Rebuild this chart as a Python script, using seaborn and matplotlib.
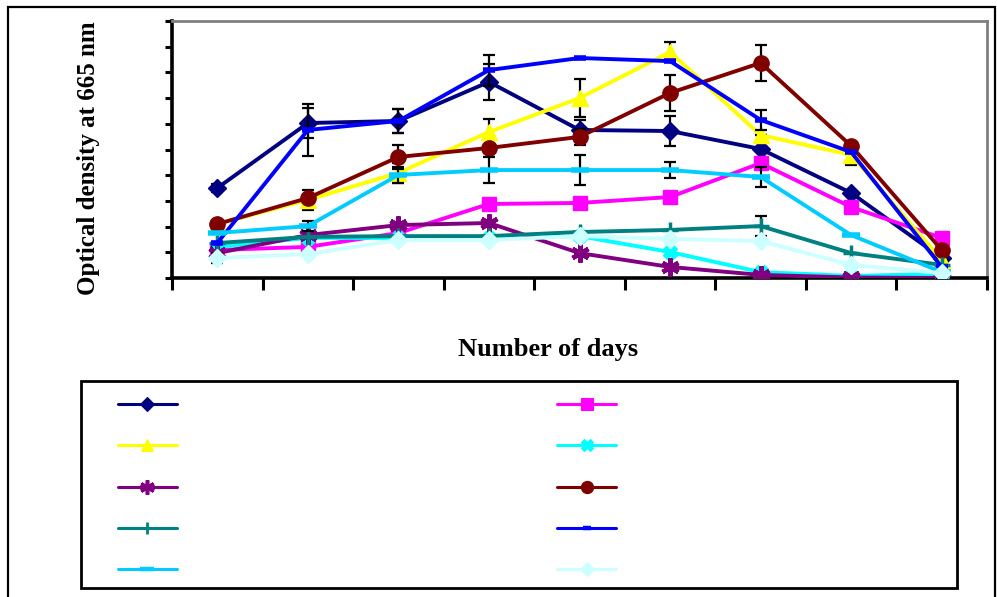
import numpy as np
import pandas as pd
import seaborn as sns
import matplotlib.pyplot as plt
from matplotlib.lines import Line2D
from matplotlib.patches import Rectangle

sns.set_theme(style='white')
plt.rcParams['font.family'] = ['Liberation Serif', 'DejaVu Serif']
plt.rcParams['text.color'] = 'black'
plt.rcParams['axes.labelcolor'] = 'black'

days = [1, 2, 3, 4, 5, 6, 7, 8, 9]
series = ['S1', 'S2', 'S3', 'S4', 'S5', 'S6', 'S7', 'S8', 'S9', 'S10']

# optical density readings per series
s1 = [0.350, 0.603, 0.611, 0.763, 0.576, 0.572, 0.502, 0.331, 0.078]
s2 = [0.109, 0.121, 0.175, 0.288, 0.292, 0.315, 0.447, 0.276, 0.156]
s3 = [0.210, 0.304, 0.409, 0.568, 0.700, 0.879, 0.556, 0.479, 0.070]
s4 = [0.121, 0.156, 0.156, 0.156, 0.163, 0.101, 0.023, 0.008, 0.016]
s5 = [0.097, 0.167, 0.206, 0.214, 0.097, 0.043, 0.012, 0.002, 0.000]
s6 = [0.210, 0.311, 0.471, 0.506, 0.549, 0.720, 0.837, 0.514, 0.109]
s7 = [0.136, 0.160, 0.163, 0.163, 0.179, 0.187, 0.202, 0.097, 0.051]
s8 = [0.136, 0.576, 0.611, 0.809, 0.856, 0.844, 0.615, 0.490, 0.043]
s9 = [0.175, 0.202, 0.401, 0.420, 0.420, 0.420, 0.393, 0.167, 0.023]
s10 = [0.078, 0.093, 0.148, 0.148, 0.163, 0.152, 0.144, 0.051, 0.019]

# standard errors
e1 = [0.016, 0.060, 0.045, 0.070, 0.040, 0.060, 0.000, 0.000, 0.000]
e2 = [0.000, 0.000, 0.000, 0.000, 0.000, 0.000, 0.000, 0.000, 0.000]
e3 = [0.000, 0.040, 0.040, 0.050, 0.075, 0.040, 0.000, 0.040, 0.000]
e4 = [0.000, 0.000, 0.000, 0.000, 0.000, 0.000, 0.000, 0.000, 0.000]
e5 = [0.000, 0.000, 0.000, 0.000, 0.000, 0.000, 0.000, 0.000, 0.000]
e6 = [0.000, 0.000, 0.045, 0.000, 0.030, 0.070, 0.070, 0.012, 0.000]
e7 = [0.000, 0.000, 0.000, 0.000, 0.000, 0.000, 0.040, 0.000, 0.000]
e8 = [0.000, 0.100, 0.045, 0.060, 0.000, 0.000, 0.040, 0.000, 0.000]
e9 = [0.000, 0.020, 0.030, 0.050, 0.060, 0.030, 0.040, 0.000, 0.000]
e10 = [0.020, 0.000, 0.000, 0.000, 0.000, 0.000, 0.000, 0.000, 0.000]

values = [s1, s2, s3, s4, s5, s6, s7, s8, s9, s10]
errors = [e1, e2, e3, e4, e5, e6, e7, e8, e9, e10]

colors = ['#000080', '#FF00FF', '#FFFF00', '#00FFFF', '#800080',
          '#800000', '#008080', '#0000FF', '#00CCFF', '#CCFFFF']
markers = ['D', 's', '^', 'X', (6, 2, 0), 'o', '+', '_', '_', 'D']
msizes = [9, 10, 11, 10, 13, 11, 11, 8, 13, 9]
medges = [1, 1, 1, 1, 3.2, 1, 2.5, 4, 4, 1]

df = pd.DataFrame({
    'day': np.tile(days, len(series)),
    'od': np.concatenate(values),
    'series': np.repeat(series, len(days)),
})

fig = plt.figure(figsize=(9.97, 5.97), dpi=100)
ax = fig.add_axes([172/997, 1 - 278/597, 815/997, 257/597])

sns.lineplot(data=df, x='day', y='od', hue='series', palette=dict(zip(series, colors)),
             sort=False, legend=False, lw=2.8, ax=ax)
sns_lines = list(ax.lines)

for i, name in enumerate(series):
    z = 3 + i * 0.1
    sns_lines[i].set_zorder(z - 0.02)
    ax.errorbar(days, values[i], yerr=errors[i], fmt='none', ecolor='black',
                elinewidth=1.6, capsize=4.5, capthick=1.6, zorder=z - 0.05)
    ax.plot(days, values[i], ls='none', marker=markers[i], ms=msizes[i],
            color=colors[i], mec=colors[i], mew=medges[i], zorder=z)

ax.set_xlim(0.5, 9.5)
ax.set_ylim(0, 1.0)
ax.set_xticks(np.arange(0.5, 10, 1))
ax.set_yticks(np.arange(0, 1.01, 0.1))
ax.set_xticklabels([])
ax.set_yticklabels([])
ax.tick_params(axis='x', direction='out', length=8.5, width=2.2, color='black', bottom=True)
ax.tick_params(axis='y', direction='out', length=5, width=2.2, color='black', left=True)

for side in ['left', 'bottom']:
    ax.spines[side].set_color('black')
    ax.spines[side].set_linewidth(2.6)
for side in ['top', 'right']:
    ax.spines[side].set_color('#808080')
    ax.spines[side].set_linewidth(2)

ax.set_ylabel('Optical density at 665 nm', fontsize=18, fontweight='bold', va='center', color='black')
ax.yaxis.set_label_coords(-0.103, 0.467)
ax.set_xlabel('Number of days', fontsize=19, fontweight='bold', va='center', color='black')
ax.xaxis.set_label_coords(0.461, -0.280)

handles = []
for i in [0, 2, 4, 6, 8, 1, 3, 5, 7, 9]:
    handles.append(Line2D([], [], color=colors[i], lw=2.2, marker=markers[i],
                          ms=msizes[i] * 0.8, mec=colors[i], mew=medges[i] * 0.8))
fig.legend(handles, [''] * 10, ncol=2, loc='upper left', frameon=False,
           bbox_to_anchor=(118/997, 1 - 399/597), borderpad=0, borderaxespad=0,
           fontsize=10, handlelength=4.24, handletextpad=0, columnspacing=27.4,
           labelspacing=2.03)

fig.patches.append(Rectangle((81/997, 1 - 588/597), 876/997, 207/597, transform=fig.transFigure,
                             fill=False, ec='black', lw=2))
fig.patches.append(Rectangle((8/997, -0.05), 987/997, 0.05 + 1 - 7/597, transform=fig.transFigure,
                             fill=False, ec='black', lw=1.6, clip_on=False))

fig.savefig('out.png', dpi=100)
